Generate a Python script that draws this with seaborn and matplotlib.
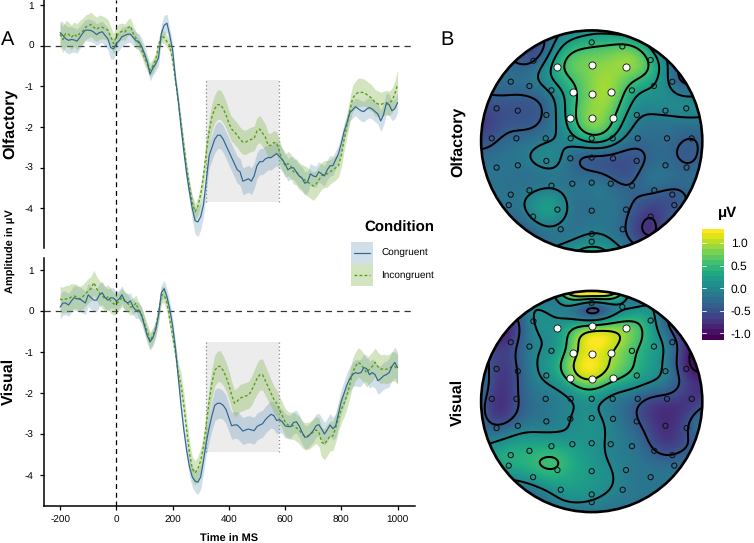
import numpy as np
import pandas as pd
import seaborn as sns
import matplotlib.pyplot as plt
from matplotlib.patches import Circle, Rectangle
from matplotlib.colors import Normalize

W, H = 754, 543

# ERP data, 10 ms steps from -200 to 1000
ms = list(range(-200, 1001, 10))

olf_cong = [.32, .25, .17, .13, .15, .14, .11, .2, .3, .38,
            .38, .37, .33, .27, .32, .34, .25, .17, -.05, -.08,
            .05, .12, .22, .25, .28, .28, .2, .12, .1, -.02,
            -.2, -.4, -.7, -.55, -.45, -.3, .3, .5, .55, .25,
            -.1, -.8, -1.35, -2.0, -2.6, -3.15, -3.6, -4.0, -4.3, -4.33,
            -4.2, -3.9, -3.3, -2.7, -2.5, -2.3, -2.2, -2.2, -2.3, -2.45,
            -2.6, -2.75, -2.9, -3.05, -3.1, -3.33, -3.3, -3.27, -3.33, -3.2,
            -2.95, -2.85, -2.85, -2.78, -2.75, -2.75, -2.7, -2.65, -2.72, -2.8,
            -2.9, -3.05, -3.0, -3.0, -3.1, -3.2, -3.25, -3.38, -3.35, -3.15,
            -3.2, -3.22, -3.1, -3.15, -3.2, -3.05, -2.95, -2.95, -2.8, -2.65,
            -2.4, -2.1, -1.9, -1.65, -1.58, -1.5, -1.55, -1.6, -1.62, -1.56,
            -1.52, -1.56, -1.62, -1.68, -1.85, -1.7, -1.42, -1.45, -1.6, -1.55,
            -1.4]
olf_incong = [.28, .15, .3, .28, .2, .28, .22, .3, .35, .45,
              .48, .52, .45, .4, .45, .45, .42, .38, .22, .05,
              .22, .32, .35, .33, .43, .48, .3, .18, .05, -.1,
              -.3, -.45, -.6, -.5, -.35, .0, .25, .2, .1, .0,
              -.35, -.85, -1.35, -1.9, -2.45, -3.0, -3.45, -3.85, -4.08, -3.95,
              -3.65, -3.2, -2.6, -2.1, -1.75, -1.55, -1.45, -1.45, -1.55, -1.7,
              -1.9, -2.05, -2.12, -2.2, -2.3, -2.37, -2.37, -2.33, -2.3, -2.28,
              -2.1, -2.05, -2.15, -2.25, -2.45, -2.45, -2.38, -2.4, -2.6, -2.8,
              -2.95, -2.9, -2.95, -3.1, -3.1, -3.2, -3.25, -3.3, -3.35, -3.4,
              -3.45, -3.4, -3.3, -3.2, -3.15, -3.15, -3.1, -3.05, -3.0, -2.95,
              -2.7, -2.3, -1.95, -1.6, -1.3, -1.2, -1.15, -1.15, -1.15, -1.2,
              -1.25, -1.3, -1.4, -1.43, -1.45, -1.42, -1.4, -1.42, -1.35, -1.2,
              -.95]
vis_cong = [.1, .2, .2, .15, .25, .33, .3, .3, .25, .2,
            .4, .33, .27, .27, .4, .45, .33, .27, .33, .32,
            .25, .3, .4, .25, .2, .25, .1, .02, .03, -.1,
            -.35, -.6, -.75, -.65, -.45, -.1, .45, .55, .35, .05,
            -.35, -.9, -1.6, -2.3, -2.9, -3.4, -3.8, -4.05, -4.15, -4.18,
            -4.05, -3.65, -3.2, -2.85, -2.55, -2.3, -2.25, -2.25, -2.3, -2.4,
            -2.6, -2.8, -2.78, -2.78, -2.85, -2.93, -2.9, -2.88, -2.9, -2.92,
            -2.82, -2.78, -2.75, -2.65, -2.58, -2.52, -2.55, -2.67, -2.65, -2.7,
            -2.8, -2.82, -2.82, -2.72, -2.7, -2.8, -2.95, -3.08, -3.07, -3.0,
            -2.92, -2.8, -2.77, -2.88, -3.0, -2.9, -2.78, -2.87, -2.8, -2.5,
            -2.2, -2.0, -1.8, -1.65, -1.55, -1.5, -1.52, -1.5, -1.38, -1.4,
            -1.55, -1.5, -1.55, -1.7, -1.65, -1.58, -1.55, -1.5, -1.35, -1.25,
            -1.38]
vis_incong = [.3, .27, .3, .3, .35, .37, .35, .3, .35, .42,
              .5, .55, .7, .55, .45, .38, .3, .35, .25, .18,
              .17, .25, .33, .25, .2, .1, .12, .2, .0, -.1,
              -.3, -.5, -.72, -.6, -.4, -.05, .4, .4, .2, -.2,
              -.6, -1.0, -1.5, -1.8, -2.3, -2.9, -3.45, -3.85, -3.95, -3.85,
              -3.65, -3.3, -2.75, -2.2, -1.75, -1.45, -1.35, -1.35, -1.45, -1.6,
              -1.8, -2.05, -2.25, -2.2, -2.12, -2.1, -2.07, -2.05, -1.95, -1.8,
              -1.65, -1.55, -1.55, -1.7, -1.85, -2.0, -2.15, -2.25, -2.4, -2.55,
              -2.7, -2.78, -2.8, -2.8, -2.85, -2.9, -3.0, -3.05, -3.05, -3.02,
              -2.95, -2.9, -2.95, -3.2, -3.25, -3.15, -3.05, -3.05, -2.85, -2.6,
              -2.4, -2.25, -2.05, -1.8, -1.5, -1.35, -1.25, -1.3, -1.4, -1.5,
              -1.42, -1.35, -1.25, -1.35, -1.42, -1.4, -1.42, -1.4, -1.35, -1.35,
              -1.42]

# ribbon half widths
olf_cong_se = [.3, .32, .33, .33, .32, .3, .3, .28, .26, .26,
               .27, .27, .27, .27, .26, .26, .27, .27, .28, .25,
               .25, .24, .23, .22, .2, .2, .2, .2, .2, .2,
               .2, .18, .17, .18, .18, .2, .22, .25, .22, .18,
               .15, .14, .14, .15, .17, .2, .22, .28, .33, .36,
               .33, .3, .28, .3, .32, .33, .33, .33, .33, .33,
               .33, .33, .33, .33, .33, .33, .33, .33, .33, .32,
               .32, .32, .32, .32, .3, .3, .3, .3, .3, .28,
               .28, .28, .28, .28, .28, .28, .28, .28, .27, .26,
               .26, .26, .25, .25, .25, .25, .25, .24, .22, .2,
               .2, .2, .2, .2, .2, .22, .24, .25, .25, .25,
               .25, .25, .25, .25, .26, .26, .26, .26, .24, .25,
               .24]
olf_incong_se = [.3, .32, .32, .3, .3, .3, .32, .32, .32, .3,
                 .3, .3, .3, .3, .3, .28, .27, .26, .26, .25,
                 .25, .22, .2, .2, .2, .2, .18, .17, .17, .17,
                 .17, .17, .17, .17, .17, .17, .17, .15, .15, .15,
                 .15, .15, .15, .15, .15, .15, .15, .18, .2, .22,
                 .25, .28, .3, .32, .33, .35, .36, .36, .35, .33,
                 .3, .3, .3, .3, .3, .3, .3, .3, .3, .3,
                 .33, .33, .33, .32, .3, .3, .3, .28, .28, .28,
                 .28, .3, .3, .3, .32, .33, .33, .35, .35, .35,
                 .35, .33, .33, .33, .33, .33, .3, .3, .3, .28,
                 .28, .28, .28, .3, .32, .33, .35, .35, .33, .33,
                 .33, .32, .32, .32, .3, .3, .3, .3, .3, .32,
                 .35]
vis_cong_se = [.3, .3, .28, .28, .28, .3, .3, .3, .3, .28,
               .28, .28, .28, .28, .28, .28, .27, .27, .25, .25,
               .22, .22, .22, .22, .22, .2, .2, .2, .2, .2,
               .2, .2, .2, .2, .2, .2, .2, .2, .2, .2,
               .18, .18, .18, .18, .18, .2, .22, .25, .27, .3,
               .3, .3, .3, .33, .36, .38, .38, .36, .35, .35,
               .33, .33, .33, .33, .33, .33, .33, .33, .33, .33,
               .33, .33, .33, .33, .33, .33, .33, .33, .3, .3,
               .3, .28, .28, .28, .28, .28, .28, .28, .28, .28,
               .28, .28, .28, .28, .28, .28, .28, .28, .3, .3,
               .3, .3, .3, .3, .3, .32, .33, .33, .33, .33,
               .33, .33, .33, .33, .33, .33, .33, .35, .35, .38,
               .38]
vis_incong_se = [.3, .32, .33, .33, .32, .3, .3, .3, .3, .3,
                 .3, .3, .3, .3, .3, .3, .3, .3, .3, .28,
                 .25, .22, .22, .22, .22, .2, .2, .2, .2, .2,
                 .2, .2, .2, .2, .2, .2, .2, .2, .2, .2,
                 .2, .22, .25, .3, .3, .3, .3, .3, .3, .3,
                 .3, .3, .3, .33, .36, .38, .38, .38, .36, .35,
                 .35, .33, .33, .33, .33, .33, .33, .33, .35, .36,
                 .38, .38, .38, .36, .35, .33, .33, .33, .33, .33,
                 .33, .33, .33, .33, .33, .33, .33, .33, .33, .33,
                 .33, .33, .35, .36, .38, .38, .36, .36, .35, .33,
                 .33, .33, .33, .33, .35, .35, .36, .36, .36, .35,
                 .35, .35, .35, .35, .35, .35, .35, .35, .36, .36,
                 .36]

y_ticks = [-4, -3, -2, -1, 0, 1]
x_ticks = [-200, 0, 200, 400, 600, 800, 1000]
window_ms = [320, 580]
olf_window = [-3.85, -0.85]
vis_window = [-3.45, -0.75]

# topography values on a 13 x 13 grid, rows from front (top) to back
olf_grid = [
    [-.2, -.2, -.2, -.3, -.2, 0, .1, .1, 0, -.1, -.2, -.2, -.2],
    [-.3, -.4, -.5, -.6, .05, .45, .6, .65, .7, .3, -.2, -.3, -.3],
    [-.3, -.3, -.35, -.2, .3, .7, .85, .9, .9, .6, 0, -.5, -.4],
    [-.3, -.3, -.3, -.2, .15, .5, .85, .95, .55, .25, -.02, -.35, -.3],
    [-.55, -.5, -.5, -.42, -.15, .5, .85, .85, .25, .05, .02, .02, .02],
    [-.7, -.55, -.5, -.42, -.1, .4, .85, .6, .05, -.2, -.2, -.2, -.2],
    [-.55, -.38, -.25, -.2, -.1, .05, .3, .1, -.25, -.28, -.28, -.38, -.35],
    [-.25, -.22, -.2, -.05, 0, -.32, -.5, -.5, -.5, -.42, -.28, -.47, -.3],
    [-.22, -.22, -.22, -.22, -.22, -.22, -.25, -.38, -.5, -.22, -.25, -.25, -.25],
    [-.2, -.2, -.2, 0, .05, -.22, -.22, -.22, -.33, -.45, -.5, -.45, -.2],
    [-.25, -.25, -.25, .05, .08, -.2, -.2, -.2, -.42, -.7, -.55, -.3, -.25],
    [-.3, -.3, -.45, -.3, -.2, -.18, -.12, -.18, -.42, -.8, -.55, -.3, -.3],
    [-.2, -.2, -.2, -.2, 0, .15, .35, .15, -.15, -.3, -.3, -.3, -.3],
]
vis_grid = [
    [-.2, -.2, -.2, -.2, 0, 1.8, 1.9, 1.8, 0, -.2, -.3, -.3, -.3],
    [-.4, -.4, -.4, .02, -.05, -.25, -.6, -.3, .05, .1, -.4, -.7, -.7],
    [-.5, -.95, -.5, -.02, .1, .5, .8, .85, .75, .3, -.3, -.95, -.9],
    [-.4, -.7, -.5, -.02, .15, .75, 1.25, 1.1, .7, .4, -.1, -.7, -1.1],
    [-.3, -.7, -.45, -.02, .3, 1.05, 1.3, 1.0, .65, .2, -.05, -.85, -1.1],
    [-.2, -.75, -.5, -.1, .1, .5, .85, .45, .2, .05, -.2, -.6, -.8],
    [-.35, -.8, -.5, -.25, -.1, .02, .1, -.1, -.25, -.6, -.7, -.75, -.7],
    [-.3, -.65, -.35, -.2, -.1, .02, .1, -.1, -.35, -.65, -.8, -.7, -.1],
    [-.1, -.05, .1, .15, .1, .1, .1, -.05, -.2, -.5, -.8, -.55, -.3],
    [.1, .3, .4, .42, .52, .3, .15, -.05, -.15, -.3, -.45, -.4, -.3],
    [.1, .1, .15, .35, .38, .3, .15, .05, -.15, -.2, -.2, -.2, -.2],
    [-.3, -.3, -.3, -.2, .05, .15, .1, -.05, -.15, -.2, -.2, -.2, -.2],
    [-.2, -.2, -.2, -.2, -.2, -.2, -.2, -.2, -.2, -.2, -.2, -.2, -.2],
]
olf_levels = [-.75, -.4, -.1, .2, .55]
vis_levels = [-1.0, -.5, 0, .5, 1.0]

# electrode positions, unit disc
elec_x = [0, .277, -.527, .533, -.732, -.563, -.364, .364, .563, .729,
          -.86, -.668, -.41, .408, .667, .855, -.904, -.681, -.416, -.19,
          0, .19, .416, .681, .904, -.41, -.193, 0, .193, .407,
          .667, .858, -.86, -.668, -.364, -.175, 0, .172, .364, -.563,
          -.732, .566, .729, -.75, -.31, 0, .31, .747, -.53, .533,
          -.28, .28, 0, 0]
elec_y = [.892, .855, .726, .732, .536, .497, .458, .458, .497, .536,
          .295, .274, .235, .235, .274, .295, .024, .024, .024, .024,
          .024, .024, .024, .024, .024, -.18, -.157, -.15, -.157, -.18,
          -.22, -.24, -.24, -.22, -.404, -.386, -.377, -.386, -.404, -.446,
          -.485, -.446, -.485, -.58, -.62, -.63, -.62, -.58, -.684, -.684,
          -.798, -.798, -.84, -.91]
sig_x = [-.313, 0, .31, -.172, 0, .175, -.193, 0, .19]
sig_y = [.669, .684, .669, .44, .428, .44, .211, .205, .211]

cbar_ticks = [-1.0, -0.5, 0.0, 0.5, 1.0]
cbar_min, cbar_max = -1.15, 1.31

blue = '#2f6690'
green = '#5c9e14'
blue_fill = '#3f7ba6'
green_fill = '#7fb24a'

sns.set_theme(style='white')
plt.rcParams['font.family'] = ['Liberation Sans', 'DejaVu Sans']
plt.rcParams['axes.unicode_minus'] = False
plt.rcParams['text.hinting'] = 'no_hinting'
plt.rcParams['text.hinting_factor'] = 1

fig = plt.figure(figsize=(W / 100, H / 100), dpi=100)


def px_axes(x0, y0, x1, y1):
    # axes from pixel box, y counted from the top
    return fig.add_axes([x0 / W, 1 - y1 / H, (x1 - x0) / W, (y1 - y0) / H])


def erp_panel(ax, cong, cong_se, incong, incong_se, window, ylim):
    ax.set_xlim(-259, 1062)
    ax.set_ylim(*ylim)
    ax.add_patch(Rectangle((window_ms[0], window[0]), window_ms[1] - window_ms[0],
                           window[1] - window[0], color='#ececec', lw=0, zorder=0))
    for edge in window_ms:
        ax.plot([edge, edge], window, color='#8a8a8a', lw=0.9, ls=(0, (1, 2)), zorder=1)
    t = np.array(ms)
    for vals, se, fill, a in [(cong, cong_se, blue_fill, .24), (incong, incong_se, green_fill, .34)]:
        vals = np.array(vals)
        se = np.array(se)
        ax.fill_between(t, vals - se, vals + se, color=fill, alpha=a, lw=0, zorder=2)
    ax.axhline(0, color='#333333', lw=0.9, ls=(0, (5, 4)), zorder=1)
    ax.axvline(0, color='black', lw=0.9, ls=(0, (4, 3)), zorder=1)
    sns.lineplot(x=ms, y=incong, ax=ax, color=green, lw=1.0, ls=(0, (2, 1.6)),
                 errorbar=None, zorder=3)
    sns.lineplot(x=ms, y=cong, ax=ax, color=blue, lw=0.85, errorbar=None, zorder=4)
    ax.set_yticks(y_ticks)
    ax.set_yticklabels([str(v) for v in y_ticks])
    ax.tick_params(axis='both', length=3, width=0.9, labelsize=7.1, pad=4,
                   color='black', left=True, bottom=True, labelcolor='black')
    for s in ['left', 'bottom']:
        ax.spines[s].set_linewidth(1.1)
        ax.spines[s].set_color('black')
    sns.despine(ax=ax)


ax_top = px_axes(43.5, 0, 415, 248)
erp_panel(ax_top, olf_cong, olf_cong_se, olf_incong, olf_incong_se, olf_window, (-4.97, 1.12))
ax_top.spines['bottom'].set_visible(False)
ax_top.set_xticks([])

ax_bot = px_axes(43.5, 258, 415, 506)
erp_panel(ax_bot, vis_cong, vis_cong_se, vis_incong, vis_incong_se, vis_window, (-4.76, 1.30))
ax_bot.set_xticks(x_ticks)
ax_bot.set_xticklabels([str(v) for v in x_ticks])


def smooth_field(grid, n=260, sigma=0.2):
    # gaussian rbf through the coarse grid, only for a smooth drawing
    z = np.array(grid, dtype=float).ravel()
    gx, gy = np.meshgrid(np.linspace(-1, 1, 13), np.linspace(1, -1, 13))
    pts = np.c_[gx.ravel(), gy.ravel()]
    d = ((pts[:, None] - pts[None]) ** 2).sum(-1)
    w = np.linalg.solve(np.exp(-d / (2 * sigma ** 2)) + 0.01 * np.eye(len(z)), z)
    xs = np.linspace(-1.02, 1.02, n)
    X, Y = np.meshgrid(xs, xs)
    q = np.c_[X.ravel(), Y.ravel()]
    d2 = ((q[:, None] - pts[None]) ** 2).sum(-1)
    return X, Y, (np.exp(-d2 / (2 * sigma ** 2)) @ w).reshape(X.shape)


def topo_panel(ax, grid, levels):
    X, Y, Z = smooth_field(grid)
    clip = Circle((0, 0), 1, transform=ax.transData)
    im = ax.imshow(Z, extent=(-1.02, 1.02, -1.02, 1.02), origin='lower', cmap='viridis',
                   norm=Normalize(cbar_min, cbar_max), interpolation='bilinear', zorder=1)
    im.set_clip_path(clip)
    cs = ax.contour(X, Y, Z, levels=levels, colors='black', linewidths=1.45,
                    linestyles='solid', zorder=2)
    cs.set_clip_path(clip)
    sns.scatterplot(x=elec_x, y=elec_y, ax=ax, s=14, facecolor='none', edgecolor='#111111',
                    linewidth=0.75, zorder=3)
    sns.scatterplot(x=sig_x, y=sig_y, ax=ax, s=26, color='white', edgecolor='#111111',
                    linewidth=0.6, zorder=4)
    ax.add_patch(Circle((0, 0), 1, fc='none', ec='black', lw=1.9, zorder=5))
    ax.set_xlim(-1.02, 1.02)
    ax.set_ylim(-1.02, 1.02)
    ax.axis('off')


r = 110.6 * 1.02
topo_panel(px_axes(591.7 - r, 141 - r, 591.7 + r, 141 + r), olf_grid, olf_levels)
topo_panel(px_axes(591.7 - r, 401.5 - r, 591.7 + r, 401.5 + r), vis_grid, vis_levels)

# colour bar made of stepped bins
cax = px_axes(702, 229, 724, 340)
bins = np.linspace(cbar_min, cbar_max, 21).reshape(-1, 1)
cax.imshow(bins, origin='lower', aspect='auto', cmap='viridis', interpolation='nearest',
           extent=(0, 1, cbar_min, cbar_max), norm=Normalize(cbar_min, cbar_max))
for v in cbar_ticks:
    cax.plot([0, .2], [v, v], color='white', lw=0.6)
    cax.plot([.8, 1], [v, v], color='white', lw=0.6)
cax.set_xlim(0, 1)
cax.set_ylim(cbar_min, cbar_max)
cax.set_xticks([])
cax.set_yticks(cbar_ticks)
cax.set_yticklabels([f'{v:.1f}' for v in cbar_ticks], fontsize=8.8)
cax.yaxis.tick_right()
cax.tick_params(axis='y', length=0, pad=5, labelcolor='black')
for s in cax.spines.values():
    s.set_visible(False)

# labels and legend on a full figure overlay, in pixels
lay = fig.add_axes([0, 0, 1, 1], zorder=10)
lay.set_xlim(0, W)
lay.set_ylim(H, 0)
lay.axis('off')
lay.patch.set_alpha(0)

lay.text(1, 40, 'A', fontsize=14.5, va='center', ha='left', color='black')
lay.text(440, 40, 'B', fontsize=14.5, va='center', ha='left', color='black')
for x, y, s in [(10, 124, 'Olfactory'), (9, 381, 'Visual'), (458, 142, 'Olfactory'), (458, 402, 'Visual')]:
    lay.text(x, y, s, fontsize=11.6, fontweight='bold', rotation=90, va='center', ha='center', color='black')
lay.text(11, 251, 'Amplitude in μV', fontsize=7.6, fontweight='bold', rotation=90,
         va='center', ha='center', color='black')
lay.text(229, 539, 'Time in MS', fontsize=7.6, fontweight='bold', va='center', ha='center', color='black')
lay.text(399, 228, 'Condition', fontsize=11, fontweight='bold', va='center', ha='center', color='black')
lay.text(728, 213, 'μV', fontsize=11, fontweight='bold', va='center', ha='center', color='black')

lay.add_patch(Rectangle((351, 242), 22, 22, color=blue_fill, alpha=.24, lw=0))
lay.add_patch(Rectangle((351, 264), 22, 22, color=green_fill, alpha=.34, lw=0))
lay.plot([354, 370], [253, 253], color=blue, lw=0.85)
lay.plot([354, 370], [275, 275], color=green, lw=1.0, ls=(0, (2, 1.6)))
lay.text(381, 253, 'Congruent', fontsize=7.2, va='center', ha='left', color='black')
lay.text(381, 275, 'Incongruent', fontsize=7.2, va='center', ha='left', color='black')

fig.savefig('out.png', dpi=100)
